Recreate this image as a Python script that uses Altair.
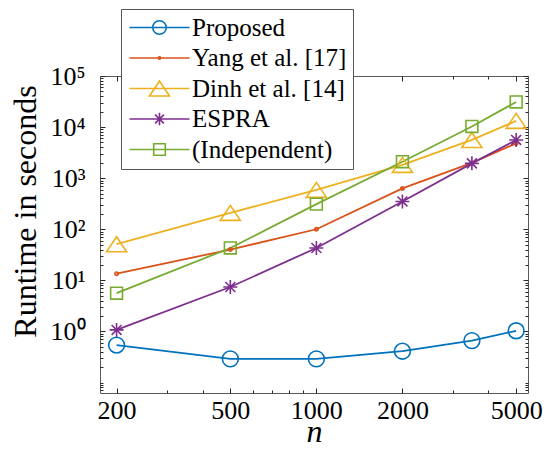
import altair as alt
import pandas as pd

# ---------------- data ----------------
n_values = [200, 500, 1000, 2000, 3500, 5000]
series_names = ["Proposed", "Yang et al. [17]", "Dinh et al. [14]", "ESPRA", "(Independent)"]
proposed = [0.54, 0.29, 0.29, 0.41, 0.66, 1.03]
yang = [13.5, 40, 100, 630, 2000, 4800]
dinh = [51, 209, 590, 1820, 5600, 13200]
espra = [1.07, 7.4, 43, 350, 1950, 5600]
independent = [5.6, 43, 310, 2100, 10300, 31000]
series_values = [proposed, yang, dinh, espra, independent]
series_colors = ["#0072BD", "#D95319", "#EDB120", "#7E2F8E", "#77AC30"]

x_tick_values = [200, 500, 1000, 2000, 5000]
x_minor_ticks = [300, 400, 600, 700, 800, 900, 3000, 4000]
y_tick_values = [1, 10, 100, 1000, 10000, 100000]
y_tick_labels = ["10\u2070", "10\u00b9", "10\u00b2", "10\u00b3", "10\u2074", "10\u2075"]
x_domain = [175, 5500]
y_domain = [0.0623, 100000]

rows = []
for name, vals in zip(series_names, series_values):
    for nv, v in zip(n_values, vals):
        rows.append({"n": nv, "t": v, "series": name})
df = pd.DataFrame(rows)

y_minor_ticks = []
for k in range(-2, 5):
    for m in range(1, 10):
        v = m * 10.0 ** k
        if y_domain[0] <= v <= y_domain[1] and not (m == 1 and k >= 0):
            y_minor_ticks.append(round(v, 6))
y_all_ticks = sorted(y_minor_ticks + y_tick_values)
x_all_ticks = sorted(x_minor_ticks + x_tick_values)

# ---------------- styling ----------------
FONT = "Liberation Serif"
W, H = 428, 317
CIRC = "circle"
TRI = "M0,-0.75L1,0.75L-1,0.75Z"
AST = "M-1,0L1,0M0,-1L0,1M-0.71,-0.71L0.71,0.71M-0.71,0.71L0.71,-0.71"
marker_shapes = [CIRC, CIRC, TRI, AST, "square"]
marker_sizes = [250, 12, 400, 196, 140]

LINE = "M-3,0L3,0"
leg_paths = [
    LINE + "M0.68,0A0.68,0.68,0,1,1,-0.68,0A0.68,0.68,0,1,1,0.68,0",
    LINE + "M0.12,0A0.12,0.12,0,1,1,-0.12,0A0.12,0.12,0,1,1,0.12,0",
    LINE + "M0,-0.75L1,0.75L-1,0.75Z",
    LINE + "M-0.62,0L0.62,0M0,-0.62L0,0.62M-0.44,-0.44L0.44,0.44M-0.44,0.44L0.44,-0.44",
    LINE + "M-0.58,-0.58L0.58,-0.58L0.58,0.58L-0.58,0.58Z",
]
shape_expr = "'" + leg_paths[-1] + "'"
for name, p in reversed(list(zip(series_names[:-1], leg_paths[:-1]))):
    shape_expr = f"datum.value === '{name}' ? '{p}' : ({shape_expr})"

ylab_expr = "''"
for v, lab in zip(y_tick_values, y_tick_labels):
    ylab_expr = f"datum.value == {v} ? '{lab}' : ({ylab_expr})"

x_major_test = "indexof(" + str(x_tick_values) + ", datum.value) >= 0"
y_major_test = "indexof(" + str(y_tick_values) + ", datum.value) >= 0"

legend = alt.Legend(
    title=None, orient="none", legendX=21, legendY=-67,
    fillColor="white", strokeColor="#555555", padding=6,
    labelFont=FONT, labelFontSize=25, labelColor="black", labelLimit=400,
    symbolOffset=20, labelOffset=20, rowPadding=4.5, symbolSize=400,
    symbolStrokeWidth=1.6, symbolFillColor="transparent",
    symbolType={"expr": shape_expr},
)

color_enc = alt.Color("series:N", scale=alt.Scale(domain=series_names, range=series_colors), legend=legend)

x_main = alt.X("n:Q", scale=alt.Scale(type="log", domain=x_domain),
               axis=alt.Axis(values=x_tick_values, format="d", labelFont=FONT, labelFontSize=26,
                             labelColor="black", ticks=False, domain=False, grid=False,
                             labelPadding=4, labelFlush=False, labelOverlap=False,
                             title="n", titleFont=FONT, titleFontSize=32, titleFontStyle="italic",
                             titleFontWeight="normal", titleColor="black", titleY=48,
                             titleBaseline="alphabetic"))
y_main = alt.Y("t:Q", scale=alt.Scale(type="log", domain=y_domain),
               axis=alt.Axis(values=y_tick_values, labelExpr=ylab_expr, labelFont=FONT,
                             labelFontSize=26, labelColor="black", ticks=False, domain=False,
                             grid=False, labelPadding=15, labelFlush=False, labelOverlap=False,
                             title="Runtime in seconds", titleFont=FONT, titleFontSize=32,
                             titleFontWeight="normal", titleColor="black", titleAngle=270,
                             titleX=-65, titleY=135, titleBaseline="alphabetic", titleAlign="center"))

layers = [alt.Chart(df).mark_line(strokeWidth=1.8).encode(
    x=x_main, y=y_main, color=color_enc, detail="series:N", order="n:Q")]
for name, shp, sz in zip(series_names, marker_shapes, marker_sizes):
    layers.append(
        alt.Chart(df).transform_filter(alt.datum.series == name)
        .mark_point(filled=False, strokeWidth=1.6, opacity=1, shape=shp, size=sz)
        .encode(x=x_main, y=y_main, color=color_enc)
    )
main = alt.layer(*layers)


def tick_axis(orient, offset, values, test):
    return alt.Axis(orient=orient, offset=offset, values=values, labels=False, domain=False,
                    grid=False, title="", tickColor="#262626", tickWidth=1,
                    tickSize={"condition": {"test": test, "value": 5}, "value": 3})


ticks_a = alt.Chart(df).mark_point(opacity=0).encode(
    x=alt.X("n:Q", scale=alt.Scale(type="log", domain=x_domain),
            axis=tick_axis("top", -H, x_all_ticks, x_major_test)),
    y=alt.Y("t:Q", scale=alt.Scale(type="log", domain=y_domain),
            axis=tick_axis("right", -W, y_all_ticks, y_major_test)),
)
ticks_b = alt.Chart(df).mark_point(opacity=0).encode(
    x=alt.X("n:Q", scale=alt.Scale(type="log", domain=x_domain),
            axis=tick_axis("bottom", -H, x_all_ticks, x_major_test)),
    y=alt.Y("t:Q", scale=alt.Scale(type="log", domain=y_domain),
            axis=tick_axis("left", -W, y_all_ticks, y_major_test)),
)

chart = alt.layer(main, ticks_a, ticks_b).resolve_scale(
    x="independent", y="independent"
).properties(
    width=W, height=H,
    padding={"left": 92, "top": 68, "right": 17, "bottom": 52},
    autosize=alt.AutoSizeParams(type="none"),
).configure(
    background="white", font=FONT
).configure_axis(
    labelFont=FONT, titleFont=FONT, labelFontSize=26
).configure_legend(
    labelFont=FONT
).configure_view(stroke="#5a5a5a", strokeWidth=1)

chart.save("out.html", embed_options={"renderer": "svg", "actions": False})
